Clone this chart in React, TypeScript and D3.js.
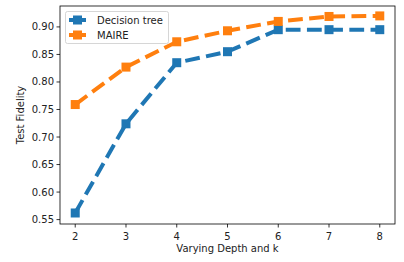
import React from "react";
import * as d3 from "d3";

const depths = [2, 3, 4, 5, 6, 7, 8];
const decisionTree = [0.562, 0.724, 0.835, 0.855, 0.895, 0.895, 0.895];
const maire = [0.759, 0.827, 0.873, 0.893, 0.91, 0.919, 0.92];
const xTicks = [2, 3, 4, 5, 6, 7, 8];
const yTicks = [0.55, 0.6, 0.65, 0.7, 0.75, 0.8, 0.85, 0.9];

const series = [
  { name: "Decision tree", values: decisionTree, color: "#1f77b4" },
  { name: "MAIRE", values: maire, color: "#ff7f0e" },
];

const W = 404;
const H = 262;
const m = { left: 60, top: 6, right: 395, bottom: 224 };
const font = "DejaVu Sans, sans-serif";

export default function App() {
  const x = d3.scaleLinear().domain([1.7, 8.3]).range([m.left, m.right]);
  const y = d3.scaleLinear().domain([0.542, 0.938]).range([m.bottom, m.top]);
  const line = d3
    .line<number>()
    .x((_, i) => x(depths[i]))
    .y((d) => y(d));

  return (
    <svg
      width={W}
      height={H}
      style={{ position: "absolute", left: 0, top: 0, background: "#fff" }}
      fontFamily={font}
    >
      {/* lines + markers */}
      {series.map((s) => (
        <g key={s.name}>
          <path
            d={line(s.values) || ""}
            fill="none"
            stroke={s.color}
            strokeWidth={4}
            strokeDasharray="14.8 6.4"
          />
          {s.values.map((v, i) => (
            <rect
              key={i}
              x={x(depths[i]) - 4.5}
              y={y(v) - 4.5}
              width={9}
              height={9}
              fill={s.color}
            />
          ))}
        </g>
      ))}

      {/* frame */}
      <rect
        x={m.left}
        y={m.top}
        width={m.right - m.left}
        height={m.bottom - m.top}
        fill="none"
        stroke="#000"
        strokeWidth={0.8}
      />

      {/* x axis */}
      {xTicks.map((t) => (
        <g key={t} transform={`translate(${x(t)},${m.bottom})`}>
          <line y2={3.5} stroke="#000" strokeWidth={0.8} />
          <text y={16} textAnchor="middle" fontSize={10} fill="#222">
            {t}
          </text>
        </g>
      ))}
      <text x={(m.left + m.right) / 2} y={252} textAnchor="middle" fontSize={10} fill="#222">
        Varying Depth and k
      </text>

      {/* y axis */}
      {yTicks.map((t) => (
        <g key={t} transform={`translate(${m.left},${y(t)})`}>
          <line x2={-3.5} stroke="#000" strokeWidth={0.8} />
          <text x={-6} dy="0.35em" textAnchor="end" fontSize={10} fill="#222">
            {d3.format(".2f")(t)}
          </text>
        </g>
      ))}
      <text
        transform={`translate(24,${(m.top + m.bottom) / 2}) rotate(-90)`}
        textAnchor="middle"
        fontSize={10}
        fill="#222"
      >
        Test Fidelity
      </text>

      {/* legend */}
      <rect x={65.5} y={11.5} width={103} height={32} rx={2} fill="#fff" fillOpacity={0.8} stroke="#ccc" strokeWidth={0.8} />
      {series.map((s, i) => {
        const ly = 20 + i * 15;
        return (
          <g key={s.name}>
            <line x1={69} x2={86} y1={ly} y2={ly} stroke={s.color} strokeWidth={4} />
            <rect x={73} y={ly - 4.5} width={9} height={9} fill={s.color} />
            <text x={97} y={ly} dy="0.35em" fontSize={10} fill="#222">
              {s.name}
            </text>
          </g>
        );
      })}
    </svg>
  );
}
